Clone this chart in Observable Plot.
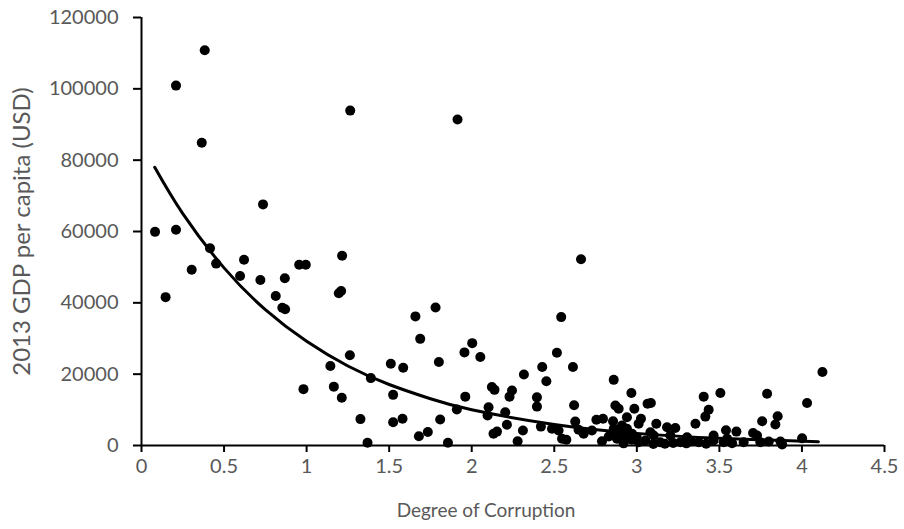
<!DOCTYPE html>
<html><head><meta charset="utf-8">
<script src="https://cdn.jsdelivr.net/npm/d3@7"></script>
<script src="https://cdn.jsdelivr.net/npm/@observablehq/plot@0.6"></script>
<style>body{margin:0;background:#fff;} #chart svg{display:block;}</style>
</head><body><div id="chart"></div>
<script>
// Degree of corruption (x) and 2013 GDP per capita in USD (y)
const corruption = [
  0.082,0.146,0.209,0.209,0.304,0.365,0.383,0.415,0.452,0.597,
  0.621,0.720,0.736,0.813,0.853,0.870,0.868,0.955,0.995,0.981,
  1.144,1.165,1.195,1.209,1.213,1.215,1.262,1.264,1.326,1.369,
  1.389,1.510,1.524,1.524,1.581,1.585,1.659,1.680,1.688,1.734,
  1.781,1.801,1.809,1.856,1.910,1.914,1.956,1.961,2.003,2.052,
  2.096,2.102,2.122,2.138,2.132,2.153,2.203,2.213,2.229,2.244,
  2.278,2.310,2.316,2.395,2.395,2.419,2.427,2.452,2.486,2.516,
  2.526,2.542,2.547,2.573,2.620,2.613,2.627,2.647,2.662,2.678,
  2.728,2.755,2.789,2.795,2.856,2.860,2.860,2.870,2.880,2.890,
  2.900,2.930,2.940,2.940,2.967,2.971,2.985,3.011,3.011,3.025,
  3.052,3.065,3.085,3.082,3.102,3.118,3.142,3.183,3.203,3.233,
  3.264,3.304,3.355,3.375,3.405,3.415,3.435,3.465,3.465,3.506,
  3.540,3.526,3.547,3.577,3.603,3.647,3.704,3.728,3.748,3.759,
  3.789,3.799,3.839,3.853,3.870,3.880,4.001,4.031,4.124,
  2.920,2.970,3.100,3.170,3.220,3.300,3.330,3.420,2.830,2.870,2.910,2.950,3.000
];
const gdp = [
  59900,41600,60500,100900,49300,84900,110800,55300,51000,47500,
  52100,46400,67600,41900,38600,38200,46900,50700,50700,15800,
  22300,16500,42700,43300,13400,53200,25300,93900,7400,760,
  18900,22900,14200,6500,7500,21800,36200,2600,29900,3800,
  38700,23400,7300,760,10100,91400,26100,13700,28700,24800,
  8400,10700,16400,15600,3300,3900,9300,5800,13700,15400,
  1200,4200,19900,13500,10900,5300,22000,18000,4700,26000,
  4200,36000,1900,1600,11300,22000,6700,4400,52200,3300,
  4200,7200,1200,7500,6800,18400,4700,11200,1900,10300,
  3700,1900,4700,7900,14700,3300,10300,900,6100,7500,
  1400,11700,11900,3700,2800,6100,900,5100,2800,4900,
  900,2300,6100,900,13700,8100,10000,1400,2800,14700,
  4300,900,1900,650,3900,900,3500,2800,900,6800,
  14500,1100,5900,8200,1100,300,2000,11900,20600,
  600,1600,400,500,700,600,1200,500,2500,3000,5600,2500,2200
];
// Exponential trendline, values
const trendX = [0.08,0.25,0.5,0.75,1.0,1.25,1.5,1.75,2.0,2.5,3.0,3.5,4.1];
const trendY = [78000,65000,49800,38100,29200,22300,17100,13100,10000,5900,3400,2000,1060];
// Axis ticks
const xTicks = [0,0.5,1,1.5,2,2.5,3,3.5,4,4.5];
const yTicks = [0,20000,40000,60000,80000,100000,120000];
const xTitle = "Degree of Corruption";
const yTitle = "2013 GDP per capita (USD)";

const points = corruption.map((x, i) => ({x, y: gdp[i]}));
const trend = trendX.map((x, i) => ({x, y: trendY[i]}));
const labelColor = "#595959";

const chart = Plot.plot({
  width: 904, height: 529,
  marginLeft: 141, marginRight: 20, marginTop: 17, marginBottom: 84,
  style: {fontFamily: "Lato, 'Open Sans', sans-serif", fontSize: "20px", background: "#fff", overflow: "visible"},
  x: {domain: [0, 4.5]},
  y: {domain: [0, 120000]},
  marks: [
    // tick marks
    Plot.axisX({ticks: xTicks, text: null, tickSize: 7, stroke: "#000", strokeWidth: 2, label: null}),
    Plot.axisY({ticks: yTicks, text: null, tickSize: 8, stroke: "#000", strokeWidth: 2, label: null}),
    // tick labels
    Plot.axisX({ticks: xTicks, tickSize: 0, tickPadding: 13, tickFormat: d => String(d), fill: labelColor, fontSize: 20, label: null}),
    Plot.axisY({ticks: yTicks, tickSize: 0, tickPadding: 23, tickFormat: d => String(d), fill: labelColor, fontSize: 20, label: null}),
    // axis lines
    Plot.ruleX([0], {stroke: "#000", strokeWidth: 2}),
    Plot.ruleY([0], {stroke: "#000", strokeWidth: 2}),
    // data
    Plot.dot(points, {x: "x", y: "y", r: 5, fill: "#000", stroke: null}),
    Plot.line(trend, {x: "x", y: "y", curve: "natural", stroke: "#000", strokeWidth: 3}),
    // axis titles
    Plot.text([xTitle], {frameAnchor: "bottom", lineAnchor: "middle", textAnchor: "middle", dy: 65, dx: -27, fill: labelColor, fontSize: 19}),
    Plot.text([yTitle], {frameAnchor: "left", lineAnchor: "middle", textAnchor: "middle", rotate: -90, dx: -119, fill: labelColor, fontSize: 24})
  ]
});
document.getElementById("chart").appendChild(chart);
</script>
</body></html>
